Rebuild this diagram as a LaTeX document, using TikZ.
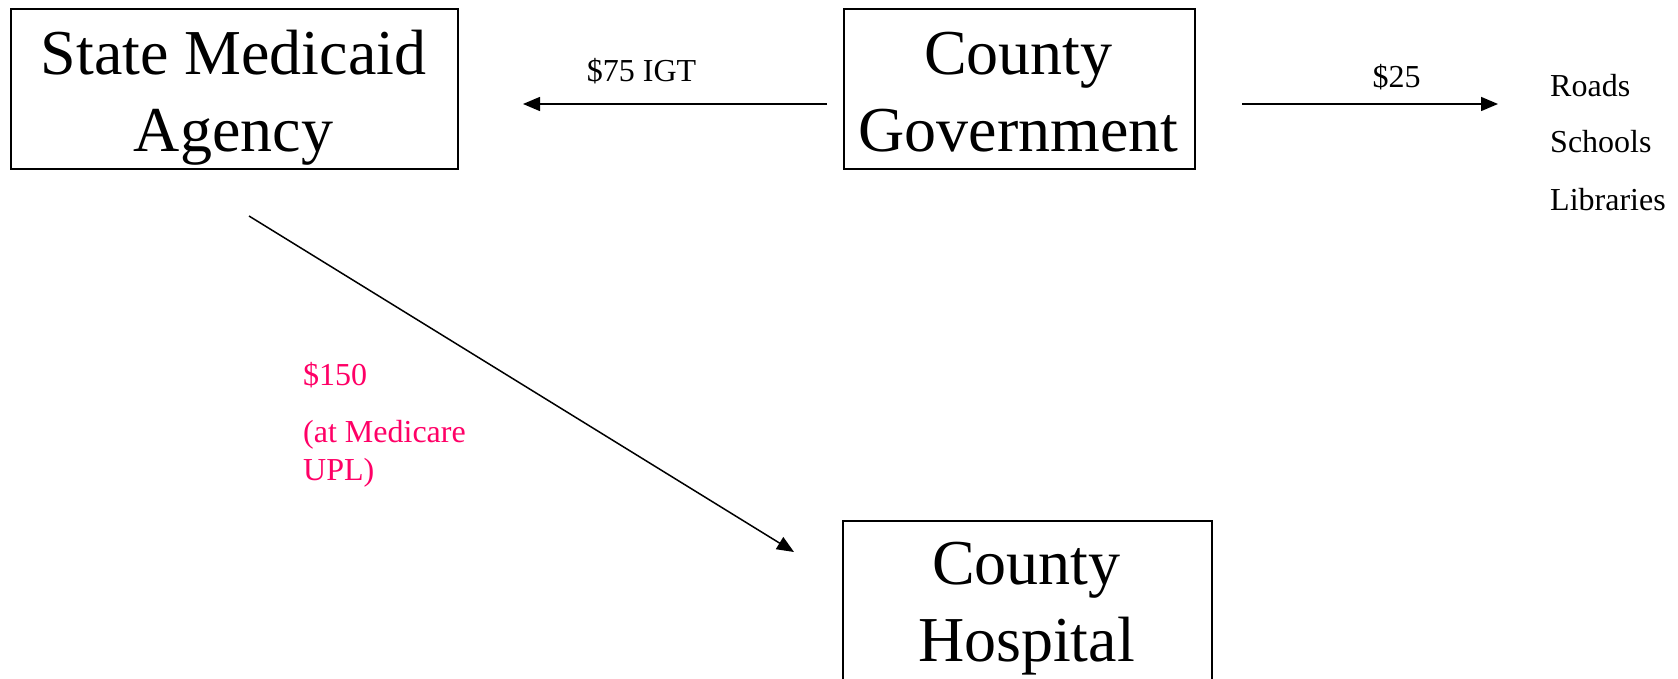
\documentclass[tikz,border=0pt]{standalone}
\usepackage{fontspec}
\setmainfont{Liberation Serif}
\usetikzlibrary{arrows.meta}
\definecolor{upink}{RGB}{255,0,102}
\tikzset{
  box/.style={draw=black, line width=1.6pt, inner sep=0pt, anchor=north west},
  big/.style={font=\fontsize{64}{64}\selectfont, anchor=base, inner sep=0pt},
  small/.style={font=\fontsize{32}{32}\selectfont, anchor=base, inner sep=0pt},
  smallleft/.style={small, anchor=base west},
  pinktext/.style={smallleft, text=upink},
  flow/.style={line width=1.5pt, -{Triangle[length=17pt,width=14pt]}}
}
\begin{document}
\begin{tikzpicture}[x=1pt,y=-1pt]
\useasboundingbox (0,0) rectangle (1678,679);
% boxes
\node[box, minimum width=447pt, minimum height=160pt] (sma) at (10,8) {};
\node[box, minimum width=351pt, minimum height=160pt] (cg) at (843,8) {};
\node[box, minimum width=369pt, minimum height=200pt] (ch) at (842,520) {};
% box texts
\node[big] (sma1) at (233.5,75) {State Medicaid};
\node[big] (sma2) at (233.5,152) {Agency};
\node[big] (cg1) at (1018.5,75) {County};
\node[big] (cg2) at (1018.5,152) {Government};
\node[big] (ch1) at (1026.5,584) {County};
\node[big] (ch2) at (1026.5,661) {Hospital};
% arrow end points
\coordinate (igtS) at (827,104);
\coordinate (igtE) at (523,104);
\coordinate (locS) at (1242,104);
\coordinate (locE) at (1498,104);
\coordinate (payS) at (249,216);
\coordinate (payE) at (794,552);
\draw[flow] (igtS) -- (igtE);
\draw[flow] (locS) -- (locE);
\draw[flow] (payS) -- (payE);
% labels
\node[small] (igt) at (641.5,82) {\$75 IGT};
\node[small] (l25) at (1396.5,88) {\$25};
\node[smallleft] (roads) at (1550,97) {Roads};
\node[smallleft] (schools) at (1550,153) {Schools};
\node[smallleft] (libs) at (1550,211) {Libraries};
\node[pinktext] (p1) at (303,385) {\$150};
\node[pinktext] (p2) at (303,442) {(at Medicare};
\node[pinktext] (p3) at (303,480) {UPL)};
\end{tikzpicture}
\end{document}
